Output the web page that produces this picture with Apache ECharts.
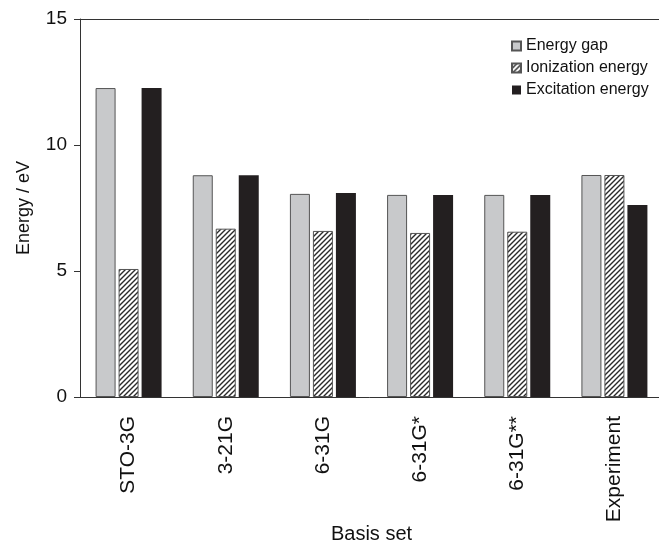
<!DOCTYPE html>
<html>
<head>
<meta charset="utf-8">
<script src="https://cdn.jsdelivr.net/npm/echarts@6/dist/echarts.min.js"></script>
<style>
  html, body { margin: 0; padding: 0; background: #fff; }
  #chart { width: 659px; height: 544px; }
</style>
</head>
<body>
<div id="chart"></div>
<script>
const basisSets = ['STO-3G', '3-21G', '6-31G', '6-31G*', '6-31G**', 'Experiment']
const energyGap = [12.26, 8.8, 8.06, 8.02, 8.02, 8.81]
const ionization = [5.08, 6.68, 6.59, 6.51, 6.56, 8.81]
const excitation = [12.26, 8.8, 8.1, 8.02, 8.02, 7.62]
const yTicks = [0, 5, 10, 15]

// hatch pattern for the ionization bars
const makeHatch = () => {
  const c = document.createElement('canvas')
  c.width = 5
  c.height = 5
  const ctx = c.getContext('2d')
  ctx.fillStyle = '#fff'
  ctx.fillRect(0, 0, 5, 5)
  ctx.strokeStyle = '#2a2a2a'
  ctx.lineWidth = 1.4
  ctx.beginPath()
  ctx.moveTo(-1, 6); ctx.lineTo(6, -1)
  ctx.moveTo(-4, 4); ctx.lineTo(4, -4)
  ctx.moveTo(1, 9); ctx.lineTo(9, 1)
  ctx.stroke()
  return c
}

const font = 'Liberation Sans, Arial, sans-serif'
const chart = echarts.init(document.getElementById('chart'))

chart.setOption({
  animation: false,
  textStyle: { fontFamily: font },
  grid: {
    left: 80, right: -4, top: 19, bottom: 147,
    containLabel: false, outerBoundsMode: 'none'
  },
  legend: {
    orient: 'vertical',
    left: 506,
    top: 33,
    icon: 'rect',
    itemWidth: 9,
    itemHeight: 9,
    itemGap: 6,
    textStyle: { fontFamily: font, fontSize: 16, color: '#111' },
    data: ['Energy gap', 'Ionization energy', 'Excitation energy']
  },
  xAxis: [
    {
      type: 'category',
      data: basisSets,
      name: 'Basis set',
      nameLocation: 'middle',
      nameGap: 127,
      nameMoveOverlap: false,
      nameTextStyle: { fontSize: 20, color: '#111' },
      axisLine: { lineStyle: { color: '#333' } },
      axisTick: { length: 5, lineStyle: { color: '#333' } },
      axisLabel: { rotate: 90, margin: 19, fontSize: 21, color: '#111' }
    },
    {
      // top frame line
      type: 'category',
      position: 'top',
      data: basisSets,
      axisLine: { show: true, lineStyle: { color: '#333' } },
      axisTick: { show: false },
      axisLabel: { show: false }
    }
  ],
  yAxis: {
    type: 'value',
    min: yTicks[0],
    max: yTicks[yTicks.length - 1],
    interval: 5,
    name: 'Energy / eV',
    nameLocation: 'middle',
    nameGap: 47,
    nameMoveOverlap: false,
    nameTextStyle: { fontSize: 18, color: '#111' },
    axisLine: { show: true, lineStyle: { color: '#333' } },
    axisTick: { show: true, length: 6, lineStyle: { color: '#333' } },
    axisLabel: { fontSize: 19, color: '#111', margin: 13 },
    splitLine: { show: false }
  },
  series: [
    {
      name: 'Energy gap',
      type: 'bar',
      data: energyGap,
      barWidth: 20,
      barGap: '15%',
      itemStyle: { color: '#c8c9cb', borderColor: '#555', borderWidth: 1 }
    },
    {
      name: 'Ionization energy',
      type: 'bar',
      data: ionization,
      barWidth: 20,
      barGap: '15%',
      itemStyle: {
        color: { image: makeHatch(), repeat: 'repeat' },
        borderColor: '#555', borderWidth: 1
      }
    },
    {
      name: 'Excitation energy',
      type: 'bar',
      data: excitation,
      barWidth: 20,
      barGap: '15%',
      itemStyle: { color: '#231f20' }
    }
  ]
})
</script>
</body>
</html>
